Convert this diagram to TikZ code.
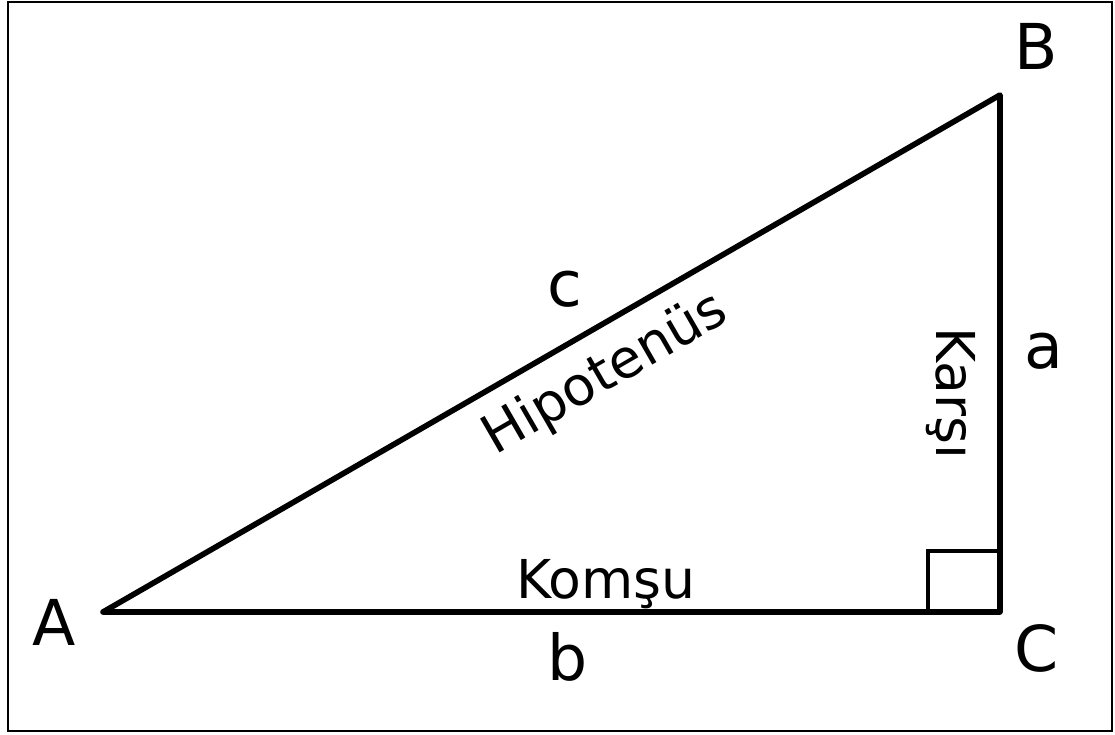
\documentclass[tikz,border=0pt]{standalone}
\usepackage{fontspec}
\setmainfont{DejaVu Sans}
\usetikzlibrary{positioning,calc}

\begin{document}
\begin{tikzpicture}[
    x=0.02cm, y=-0.02cm,
    side/.style={line width=3.2pt, line cap=round, line join=round},
    vertex/.style={inner sep=0pt, font=\fontsize{36}{40}\selectfont},
    word/.style={inner sep=0pt, font=\fontsize{30.5}{34}\selectfont},
]
\useasboundingbox (0,0) rectangle (1115,734);
\draw[line width=1.4pt] (8,2) rectangle (1112,731);

% corners of the triangle
\coordinate (A) at (103,612);
\coordinate (B) at (1000,95);
\coordinate (C) at (1000,612);

\draw[side] (A) -- (B) -- (C) -- cycle;
\draw[line width=2.8pt] ($(C)+(-72,0)$) |- ($(C)+(0,-61)$);

% vertex names
\node[vertex] (lA) at (54,622) {A};
\node[vertex] (lB) at (1036,46) {B};
\node[vertex] (lC) at (1037,648) {C};

% side names
\node[vertex] (la) at (1044,351) {a};
\node[vertex] (lb) at (568,657) {b};
\node[vertex] (lc) at (565,289) {c};

% side words
\node[word, rotate=30] (hyp) at (606,375) {Hipotenüs};
\node[word, anchor=base] (adj) at (606,598) {Komşu};
\node[word, rotate=-90, anchor=base] (opp) at (936,393) {Karşı};
\end{tikzpicture}
\end{document}
